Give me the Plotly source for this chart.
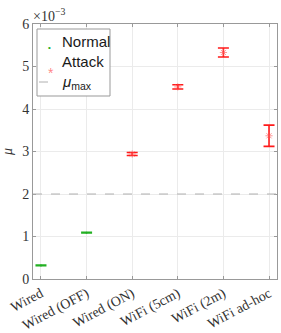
import plotly.graph_objects as go

categories = ["Wired", "Wired (OFF)", "Wired (ON)", "WiFi (5cm)", "WiFi (2m)", "WiFi ad-hoc"]
cat_pos = [1, 2, 3, 4, 5, 6]

normal_x = [1, 2]
normal_mean = [0.32, 1.09]      # x 1e-3
normal_err = [0.008, 0.008]

attack_x = [3, 4, 5, 6]
attack_mean = [2.94, 4.52, 5.33, 3.37]   # x 1e-3
attack_err = [0.035, 0.05, 0.105, 0.25]

mu_max = 2.0
y_ticks = [0, 1, 2, 3, 4, 5, 6]
legend_labels = ["Normal", "Attack", "<i>μ</i><sub>max</sub>"]

serif = "Liberation Serif, DejaVu Serif, serif"
sans = "Liberation Sans, Arial, sans-serif"
GREEN = "#22b022"
RED = "#ff1a1a"

W, H = 281, 333
ML, MR, MT, MB = 33, 4, 24, 54
PW, PH = W - ML - MR, H - MT - MB

def px(x):
    return (x - ML) / PW

def py(y):
    return (H - MB - y) / PH

fig = go.Figure()

fig.add_trace(go.Scatter(
    x=normal_x, y=normal_mean, mode="markers", name="Normal", showlegend=False,
    marker=dict(symbol="circle", size=2, color=GREEN),
    error_y=dict(type="data", array=normal_err, color=GREEN, thickness=1.5, width=5.5),
))
fig.add_trace(go.Scatter(
    x=attack_x, y=attack_mean, mode="markers", name="Attack", showlegend=False,
    marker=dict(symbol="asterisk-open", size=6, color="rgba(255,80,80,0.6)",
                line=dict(width=1, color="rgba(255,80,80,0.6)")),
    error_y=dict(type="data", array=attack_err, color=RED, thickness=1.6, width=5.5),
))
fig.add_hline(y=mu_max, line=dict(color="#b0b0b0", width=1, dash="dash"))

# legend box (drawn manually to match compact MATLAB legend)
fig.add_shape(type="rect", xref="paper", yref="paper",
              x0=px(37), x1=px(110), y0=py(96), y1=py(29),
              line=dict(color="#999999", width=1), fillcolor="white", layer="above")
leg_y = [41, 61, 82]
fig.add_annotation(xref="paper", yref="paper", x=px(46), y=py(leg_y[0]), text="•",
                   showarrow=False, font=dict(size=8, color=GREEN, family=sans))
fig.add_annotation(xref="paper", yref="paper", x=px(46), y=py(leg_y[1] + 2), text="*",
                   showarrow=False, font=dict(size=14, color="rgba(255,80,80,0.7)", family=sans))
fig.add_shape(type="line", xref="paper", yref="paper",
              x0=px(39), x1=px(56), y0=py(leg_y[2]), y1=py(leg_y[2]),
              line=dict(color="#b0b0b0", width=1, dash="dash"), layer="above")
for lab, yy in zip(legend_labels, leg_y):
    fig.add_annotation(xref="paper", yref="paper", x=px(60), y=py(yy), text=lab,
                       xanchor="left", yanchor="middle", showarrow=False,
                       font=dict(family=sans, size=15, color="#1a1a1a"))

fig.update_layout(
    width=W, height=H,
    margin=dict(l=ML, r=MR, t=MT, b=MB, autoexpand=False),
    plot_bgcolor="white", paper_bgcolor="white",
    showlegend=False,
    font=dict(family=serif, size=13, color="#333333"),
)
fig.update_xaxes(
    range=[0.825, 6.175], tickmode="array", tickvals=cat_pos, ticktext=categories,
    tickangle=-28, showgrid=True, gridcolor="#ebebeb", gridwidth=1,
    showline=True, linecolor="#999999", linewidth=1, mirror="ticks",
    ticks="inside", ticklen=3, tickcolor="#999999", zeroline=False,
    tickfont=dict(family=serif, size=14, color="#333333"), automargin=False,
)
fig.update_yaxes(
    range=[0, 6], tickmode="array", tickvals=y_ticks,
    showgrid=True, gridcolor="#ebebeb", gridwidth=1,
    showline=True, linecolor="#999999", linewidth=1, mirror="ticks",
    ticks="inside", ticklen=3, tickcolor="#999999", zeroline=False,
    tickfont=dict(family=serif, size=14, color="#333333"), automargin=False,
    title=dict(text="<i>μ</i>", font=dict(family=serif, size=14, color="#333333"), standoff=6),
)
fig.add_annotation(
    x=0, y=1, xref="paper", yref="paper", xanchor="left", yanchor="bottom",
    text="×10<sup>−3</sup>", showarrow=False, xshift=-2, yshift=-2,
    font=dict(family=serif, size=14, color="#333333"),
)

fig.write_html("out.html", config={"displayModeBar": False},
               post_script="document.body.style.margin='0';")
